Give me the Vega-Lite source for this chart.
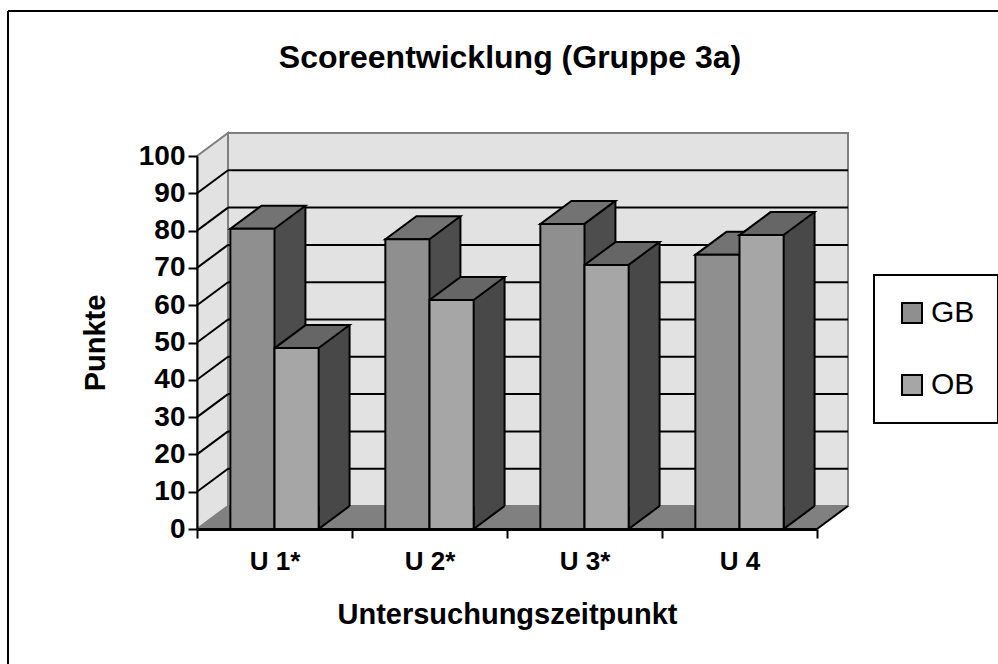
{
"$schema":"https://vega.github.io/schema/vega-lite/v6.json",
"width":990,"height":653,"autosize":{"type":"none"},"padding":{"left":8,"top":11,"right":0,"bottom":0},
"background":"white",
"title":{"text":"Scoreentwicklung (Gruppe 3a)","font":"Liberation Sans","fontWeight":"bold","fontSize":32,"color":"black","anchor":"middle","frame":"group","offset":0,"dx":7,"dy":65},
"config":{"view":{"stroke":null},"font":"Liberation Sans","legend":{"strokeWidth":2}},
"datasets":{
"bars":[
{"zeit":"U 1*","gruppe":"GB","punkte":80.5},{"zeit":"U 2*","gruppe":"GB","punkte":77.7},{"zeit":"U 3*","gruppe":"GB","punkte":81.8},{"zeit":"U 4","gruppe":"GB","punkte":73.5},
{"zeit":"U 1*","gruppe":"OB","punkte":48.5},{"zeit":"U 2*","gruppe":"OB","punkte":61.4},{"zeit":"U 3*","gruppe":"OB","punkte":70.8},{"zeit":"U 4","gruppe":"OB","punkte":78.8}],
"ticks":[{"v":10},{"v":20},{"v":30},{"v":40},{"v":50},{"v":60},{"v":70},{"v":80},{"v":90}],
"one":[{"k":1}]},
"layer":[
{"data":{"name":"one"},"layer":[
 {"mark":{"type":"rule","stroke":"black","strokeWidth":2},"encoding":{"x":{"datum":0,"type":"quantitative","axis":null,"scale":{"domain":[0,1],"nice":false,"zero":false}}}},
 {"mark":{"type":"rule","stroke":"black","strokeWidth":2},"encoding":{"y":{"datum":1,"type":"quantitative","axis":null,"scale":{"domain":[0,1],"nice":false,"zero":false}}}}
]},
{"layer":[
 {"data":{"name":"one"},"mark":{"type":"rect","fill":"#e2e2e2","stroke":"#808080","strokeWidth":2,"xOffset":31,"x2Offset":31,"yOffset":-23,"y2Offset":-23},
  "encoding":{"x":{"datum":0,"type":"quantitative","axis":null,"scale":{"domain":[0,1],"range":[189,809],"nice":false,"zero":false}},"x2":{"datum":1},
   "y":{"datum":100,"type":"quantitative","scale":{"domain":[0,100],"range":[518,145],"nice":false},
    "axis":{"title":"Punkte","titleFont":"Liberation Sans","titleFontWeight":"bold","titleFontSize":29,"titleColor":"black","titlePadding":28,"labelFont":"Liberation Sans","labelFontWeight":"bold","labelFontSize":28,"labelColor":"black","labelPadding":3,"values":[0,10,20,30,40,50,60,70,80,90,100],"offset":-189,"grid":false,"domainColor":"black","domainWidth":2,"tickColor":"black","tickWidth":2,"tickSize":9,"zindex":1}},
   "y2":{"datum":0}}},
 {"data":{"name":"one"},"mark":{"type":"point","shape":"M0,0 L31,-23 L31,-396 L0,-373 Z","size":4,"filled":true,"fill":"#e2e2e2","stroke":"#808080","strokeWidth":2,"opacity":1},
  "encoding":{"x":{"datum":0,"type":"quantitative","axis":null,"scale":{"domain":[0,1],"range":[189,809],"nice":false,"zero":false}},"y":{"datum":0,"type":"quantitative"}}},
 {"data":{"name":"ticks"},"mark":{"type":"rule","stroke":"black","strokeWidth":2,"xOffset":31,"x2Offset":31,"yOffset":-23},
  "encoding":{"x":{"datum":0,"type":"quantitative","axis":null,"scale":{"domain":[0,1],"range":[189,809],"nice":false,"zero":false}},"x2":{"datum":1},"y":{"field":"v","type":"quantitative"}}},
 {"data":{"name":"ticks"},"mark":{"type":"point","shape":"M0,0 L31,-23","size":4,"filled":false,"stroke":"black","strokeWidth":2,"opacity":1},
  "encoding":{"x":{"datum":0,"type":"quantitative","axis":null,"scale":{"domain":[0,1],"range":[189,809],"nice":false,"zero":false}},"y":{"field":"v","type":"quantitative"}}},
 {"data":{"name":"one"},"mark":{"type":"point","shape":"M0,0 L620,0 L651,-23 L31,-23 Z","size":4,"filled":true,"fill":"#808080","strokeWidth":0,"opacity":1},
  "encoding":{"x":{"datum":0,"type":"quantitative","axis":null,"scale":{"domain":[0,1],"range":[189,809],"nice":false,"zero":false}},"y":{"datum":0,"type":"quantitative"}}},
 {"data":{"name":"one"},"mark":{"type":"point","shape":"M620,0 L651,-23","size":4,"filled":false,"stroke":"black","strokeWidth":2,"opacity":1},
  "encoding":{"x":{"datum":0,"type":"quantitative","axis":null,"scale":{"domain":[0,1],"range":[189,809],"nice":false,"zero":false}},"y":{"datum":0,"type":"quantitative"}}},
 {"data":{"name":"bars"},"mark":{"type":"bar","width":31,"yOffset":-23,"y2Offset":-23,"strokeWidth":0},
  "encoding":{"x":{"field":"zeit","type":"nominal","sort":null,"axis":null,"scale":{"range":[226.6,846.6],"paddingInner":0,"paddingOuter":0}},
   "xOffset":{"field":"gruppe","type":"nominal","sort":null,"scale":{"paddingOuter":0.755,"paddingInner":0}},
   "y":{"field":"punkte","type":"quantitative"},"y2":{"datum":0},
   "fill":{"condition":{"test":"datum.gruppe==='GB'","value":"#4d4d4d"},"value":"#484848"}}},
 {"data":{"name":"bars"},"mark":{"type":"point","shape":"M53,-23 L22,0 L22,-23","size":4,"filled":true,"stroke":"black","strokeWidth":2,"opacity":1},
  "encoding":{"x":{"field":"zeit","type":"nominal","sort":null,"axis":null,"scale":{"range":[189,809],"paddingInner":0,"paddingOuter":0}},
   "xOffset":{"field":"gruppe","type":"nominal","sort":null,"scale":{"paddingOuter":0.755,"paddingInner":0}},
   "y":{"datum":0,"type":"quantitative"},
   "fill":{"condition":{"test":"datum.gruppe==='GB'","value":"#4d4d4d"},"value":"#484848"}}},
 {"data":{"name":"bars"},"mark":{"type":"rule","stroke":"black","strokeWidth":2,"yOffset":-23,"y2Offset":-23},
  "encoding":{"x":{"field":"zeit","type":"nominal","sort":null,"axis":null,"scale":{"range":[242,862],"paddingInner":0,"paddingOuter":0}},
   "xOffset":{"field":"gruppe","type":"nominal","sort":null,"scale":{"paddingOuter":0.755,"paddingInner":0}},
   "y":{"field":"punkte","type":"quantitative"},"y2":{"datum":0}}},
 {"data":{"name":"bars"},"mark":{"type":"point","shape":"M-22,0 L22,0 L53,-23 L9,-23 Z","size":4,"filled":true,"stroke":"black","strokeWidth":2,"opacity":1},
  "encoding":{"x":{"field":"zeit","type":"nominal","sort":null,"axis":null,"scale":{"range":[189,809],"paddingInner":0,"paddingOuter":0}},
   "xOffset":{"field":"gruppe","type":"nominal","sort":null,"scale":{"paddingOuter":0.755,"paddingInner":0}},
   "y":{"field":"punkte","type":"quantitative"},
   "fill":{"condition":{"test":"datum.gruppe==='GB'","value":"#737373"},"value":"#666666"}}},
 {"data":{"name":"bars"},"mark":{"type":"bar","stroke":"black","strokeWidth":2},
  "encoding":{"x":{"field":"zeit","type":"nominal","sort":null,"scale":{"range":[189,809],"paddingInner":0,"paddingOuter":0},
    "axis":{"title":"Untersuchungszeitpunkt","titleFont":"Liberation Sans","titleFontWeight":"bold","titleFontSize":29,"titleColor":"black","titlePadding":26,"labelFont":"Liberation Sans","labelFontWeight":"bold","labelFontSize":26,"labelColor":"black","labelAngle":0,"labelPadding":10,"offset":-135,"tickBand":"extent","domainColor":"black","domainWidth":3,"tickColor":"black","tickWidth":2,"tickSize":9,"grid":false,"zindex":1}},
   "xOffset":{"field":"gruppe","type":"nominal","sort":null,"scale":{"paddingOuter":0.755,"paddingInner":0}},
   "y":{"field":"punkte","type":"quantitative"},"y2":{"datum":0},
   "fill":{"field":"gruppe","type":"nominal","scale":{"domain":["GB","OB"],"range":["#8f8f8f","#a6a6a6"]},
    "legend":{"title":null,"orient":"none","legendX":866,"legendY":264,"padding":23,"strokeColor":"black","fillColor":"white","symbolType":"square","symbolSize":400,"symbolStrokeColor":"black","symbolStrokeWidth":2,"labelFont":"Liberation Sans","labelFontSize":30,"labelColor":"black","labelOffset":4,"rowPadding":42,"labelLimit":200}}}}
],"resolve":{"scale":{"x":"independent"}}}
],"resolve":{"scale":{"x":"independent","y":"independent"}}
}
